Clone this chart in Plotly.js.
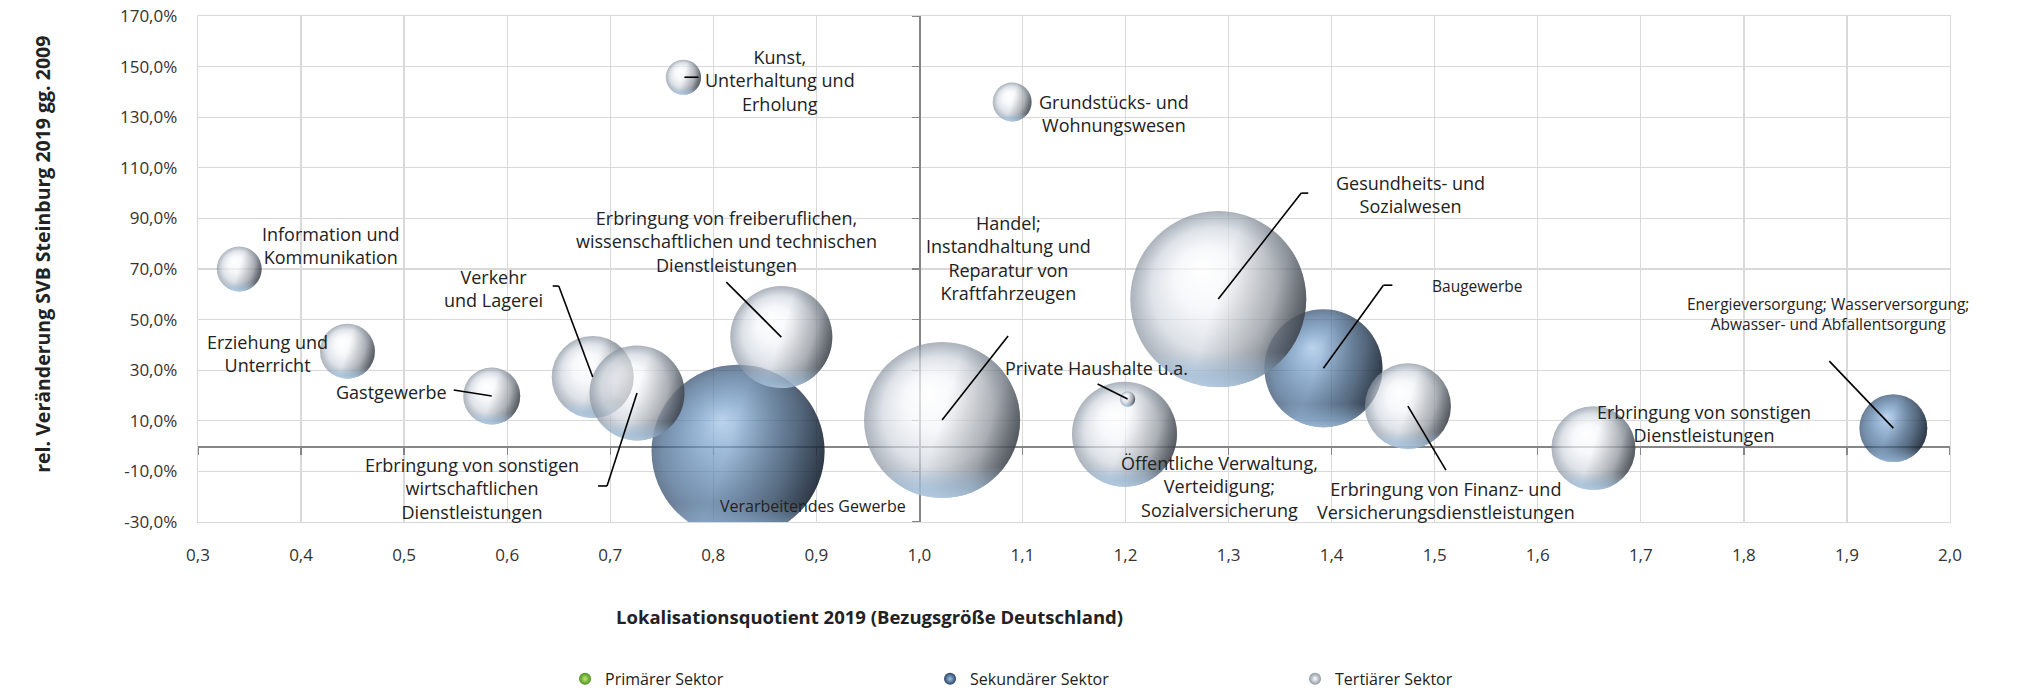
<!DOCTYPE html>
<html>
<head>
<meta charset="utf-8">
<script src="https://cdn.plot.ly/plotly-3.0.1.min.js"></script>
<style>
  html, body { margin: 0; padding: 0; background: #ffffff; }
  #chart { width: 2020px; height: 691px; }
</style>
</head>
<body>
<div id="chart"></div>
<script>
// Wirtschaftszweige im Kreis Steinburg: Lokalisationsquotient 2019 (x),
// relative Veränderung der SV-Beschäftigten 2019 gg. 2009 in % (y),
// Beschäftigte 2019 (Blasengröße), Sektor-Zuordnung.
const branchen = [
  'Verarbeitendes Gewerbe',
  'Baugewerbe',
  'Energieversorgung; Wasserversorgung;<br>Abwasser- und Abfallentsorgung',
  'Information und<br>Kommunikation',
  'Erziehung und<br>Unterricht',
  'Gastgewerbe',
  'Verkehr<br>und Lagerei',
  'Erbringung von sonstigen<br>wirtschaftlichen<br>Dienstleistungen',
  'Kunst,<br>Unterhaltung und<br>Erholung',
  'Grundstücks- und<br>Wohnungswesen',
  'Erbringung von freiberuflichen,<br>wissenschaftlichen und technischen<br>Dienstleistungen',
  'Handel;<br>Instandhaltung und<br>Reparatur von<br>Kraftfahrzeugen',
  'Öffentliche Verwaltung,<br>Verteidigung;<br>Sozialversicherung',
  'Private Haushalte u.a.',
  'Gesundheits- und<br>Sozialwesen',
  'Erbringung von Finanz- und<br>Versicherungsdienstleistungen',
  'Erbringung von sonstigen<br>Dienstleistungen'
];
const lq = [0.824, 1.392, 1.945, 0.340, 0.445, 0.585, 0.683, 0.726, 0.771, 1.090,
            0.866, 1.022, 1.199, 1.202, 1.290, 1.474, 1.654];
const veraenderung = [-2.0, 30.8, 7.1, 70.0, 37.5, 19.8, 27.3, 21.0, 145.8, 136.0,
                      43.1, 10.3, 4.7, 18.6, 58.1, 15.8, -0.8];
const beschaeftigte = [7730, 3600, 1190, 520, 780, 840, 1740, 2330, 320, 390,
                       2690, 6290, 2850, 60, 8000, 1910, 1820];
const sektor = ['sek', 'sek', 'sek', 'ter', 'ter', 'ter', 'ter', 'ter', 'ter', 'ter',
                'ter', 'ter', 'ter', 'ter', 'ter', 'ter', 'ter'];

const sektorNamen = { pri: 'Primärer Sektor', sek: 'Sekundärer Sektor', ter: 'Tertiärer Sektor' };

const xTickVals = [0.3, 0.4, 0.5, 0.6, 0.7, 0.8, 0.9, 1.0, 1.1, 1.2, 1.3, 1.4, 1.5, 1.6, 1.7, 1.8, 1.9, 2.0];
const xTickLabels = ['0,3', '0,4', '0,5', '0,6', '0,7', '0,8', '0,9', '1,0', '1,1', '1,2', '1,3', '1,4',
                     '1,5', '1,6', '1,7', '1,8', '1,9', '2,0'];
const yTickVals = [-30, -10, 10, 30, 50, 70, 90, 110, 130, 150, 170];
const yTickLabels = ['-30,0%', '-10,0%', '10,0%', '30,0%', '50,0%', '70,0%', '90,0%', '110,0%',
                     '130,0%', '150,0%', '170,0%'];

// ---- presentation ----------------------------------------------------------
const X_RANGE = [0.3, 2.0];
const Y_RANGE = [-30, 170];
const X_CROSS = 1.0;   // vertical axis crosses the x axis here
const Y_CROSS = 0;     // horizontal axis crosses the y axis here
const FONT = 'Open Sans, Noto Sans, sans-serif';
const TEXT = '#222222';
const SIZEREF = 2 * 8000 / (176 * 176);   // 8000 Beschäftigte -> 176 px bubble

// Label placement relative to each bubble centre in screen pixels
// (dx to the right, dy upwards) and leader segments [x0, y0, x1, y1] in the same frame.
const labelPlacement = [
  { dx: 75, dy: -55, size: 16 },
  { dx: 154, dy: 82, size: 15.5, lines: [[0, 0, 60, 83], [60, 83, 69, 83]] },
  { dx: -65, dy: 114.5, size: 15.5, lines: [[0, 0, -64, 67]] },
  { dx: 92, dy: 24 },
  { dx: -80, dy: -2 },
  { dx: -100, dy: 4, lines: [[0, 0, -38, 6]] },
  { dx: -99, dy: 89, lines: [[0, 0, -34, 91], [-34, 91, -40, 91]] },
  { dx: -165, dy: -95.6, lines: [[0, 0, -30, -93], [-30, -93, -39, -93]] },
  { dx: 97, dy: -3, lines: [[1, 0, 15, 0]] },
  { dx: 102, dy: -11 },
  { dx: -55, dy: 96, lines: [[0, 0, -55, 55]] },
  { dx: 66.5, dy: 162.5, lines: [[0, 0, 66, 84]] },
  { dx: 95, dy: -52 },
  { dx: -31, dy: 31, lines: [[0, 0, -30, 15]] },
  { dx: 192, dy: 104.5, lines: [[0, 0, 83, 106], [83, 106, 90, 106]] },
  { dx: 38, dy: -94, lines: [[0, 0, 38, -64]] },
  { dx: 111, dy: 25 }
];

// Shaded-sphere look: a radial base with an off-centre highlight, a darker band
// towards the right edge and a light rim along the bottom. Marker colours give the
// basic gradient; the stop lists refine the generated SVG gradients afterwards.
const sphere = {
  pri: { edge: '#4f8f1e', centre: '#b8ec74', shade: 'rgba(20,40,10,0.5)', rim: 'rgba(190,240,150,0.4)' },
  sek: { edge: '#2a4466', centre: '#9fc0e3', shade: 'rgba(12,20,32,0.5)', rim: 'rgba(150,200,245,0.4)' },
  ter: { edge: '#8c97a4', centre: '#ffffff', shade: 'rgba(28,32,40,0.45)', rim: 'rgba(170,210,245,0.4)' }
};
const sphereStops = {
  sek: {
    base: [[0, '#9fc0e3', 1], [0.25, '#77a0cc', 1], [0.6, '#4f78a3', 1], [0.85, '#3a5d84', 1], [1, '#2a4466', 1]],
    shade: [[0, '#0a1018', 0], [0.45, '#0a1018', 0], [0.78, '#0a1018', 0.45], [1, '#0a1018', 0.92]],
    rim: [[0, '#a6cff5', 0], [0.8, '#a6cff5', 0], [0.94, '#a6cff5', 0.7], [1, '#bfe0fb', 0.9]]
  },
  ter: {
    base: [[0, '#ffffff', 1], [0.35, '#f3f5f8', 1], [0.7, '#d0d6de', 1], [0.88, '#a2acb8', 1], [1, '#87919e', 1]],
    shade: [[0, '#1b1e23', 0], [0.5, '#1b1e23', 0], [0.8, '#1b1e23', 0.38], [1, '#1b1e23', 0.9]],
    rim: [[0, '#a9d1f5', 0], [0.8, '#a9d1f5', 0], [0.94, '#a9d1f5', 0.7], [1, '#bfe0fb', 0.9]]
  }
};
function clear(c) { return c.replace(/[\d.]+\)$/, '0)'); }

const traces = [];

// legend entries
['pri', 'sek', 'ter'].forEach(function (s, k) {
  traces.push({
    type: 'scatter', mode: 'markers', x: [null], y: [null],
    xaxis: k === 0 ? 'x2' : 'x', yaxis: k === 0 ? 'y2' : 'y',
    name: sektorNamen[s], showlegend: true, hoverinfo: 'skip',
    marker: { size: 11, color: sphere[s].edge, gradient: { type: 'radial', color: sphere[s].centre }, line: { width: 0 } }
  });
});

// bubbles, each one built from three stacked layers so overlaps stay in order
for (let i = 0; i < branchen.length; i++) {
  const st = sphere[sektor[i]];
  const layers = [
    { key: 'base', color: st.edge, gradient: { type: 'radial', color: st.centre } },
    { key: 'shade', color: clear(st.shade), gradient: { type: 'horizontal', color: st.shade } },
    { key: 'rim', color: clear(st.rim), gradient: { type: 'vertical', color: st.rim } }
  ];
  layers.forEach(function (l) {
    traces.push({
      type: 'scatter', mode: 'markers', uid: 'b' + i + l.key,
      x: [lq[i]], y: [veraenderung[i]],
      name: branchen[i], showlegend: false, hoverinfo: 'skip',
      marker: {
        size: [beschaeftigte[i]], sizemode: 'area', sizeref: SIZEREF,
        color: l.color, gradient: l.gradient, line: { width: 0 }
      }
    });
  });
}

const annotations = [];
const shapes = [];
for (let i = 0; i < branchen.length; i++) {
  const p = labelPlacement[i];
  annotations.push({
    xref: 'x', yref: 'y', x: lq[i], y: veraenderung[i],
    xshift: p.dx, yshift: p.dy, xanchor: 'center', yanchor: 'middle',
    text: branchen[i], showarrow: false, align: 'center',
    font: { family: FONT, size: p.size || 18, color: TEXT }
  });
  (p.lines || []).forEach(function (seg) {
    shapes.push({
      type: 'line', xref: 'x', yref: 'y', layer: 'above',
      xsizemode: 'pixel', ysizemode: 'pixel',
      xanchor: lq[i], yanchor: veraenderung[i],
      x0: seg[0], y0: seg[1], x1: seg[2], y1: seg[3],
      line: { color: '#000000', width: 1.6 }
    });
  });
}

// axis titles
annotations.push({
  xref: 'paper', yref: 'paper', x: -0.0885, y: 0.53, xanchor: 'center', yanchor: 'middle',
  text: 'rel. Veränderung SVB Steinburg 2019 gg. 2009', textangle: -90, showarrow: false,
  font: { family: FONT, size: 19.5, color: TEXT, weight: 'bold' }
});
annotations.push({
  xref: 'paper', yref: 'paper', x: 0.383, y: -0.186, xanchor: 'center', yanchor: 'middle',
  text: 'Lokalisationsquotient 2019 (Bezugsgröße Deutschland)', showarrow: false,
  font: { family: FONT, size: 18.5, color: TEXT, weight: 'bold' }
});

const grid = '#d9d9d9';
const axisGrey = '#868686';

const layout = {
  width: 2020, height: 691,
  margin: { l: 198, r: 70, t: 16, b: 169, pad: 0, autoexpand: false },
  paper_bgcolor: '#ffffff', plot_bgcolor: '#ffffff',
  font: { family: FONT, size: 17, color: TEXT },
  showlegend: true,
  legend: {
    orientation: 'h', x: 0.2095, xanchor: 'left', y: -0.31, yanchor: 'middle',
    font: { family: FONT, size: 16, color: TEXT },
    entrywidth: 320, entrywidthmode: 'pixels', itemsizing: 'constant', traceorder: 'normal'
  },
  xaxis: {
    range: X_RANGE, autorange: false, tickvals: xTickVals, ticktext: xTickLabels,
    showgrid: true, gridcolor: grid, gridwidth: 1.3, zeroline: false,
    showline: true, mirror: true, linecolor: grid, linewidth: 1.3,
    ticks: '', ticklabelstandoff: 17, tickfont: { family: FONT, size: 17, color: '#333333' }
  },
  yaxis: {
    range: Y_RANGE, autorange: false, tickvals: yTickVals, ticktext: yTickLabels,
    showgrid: true, gridcolor: grid, gridwidth: 1.3, zeroline: false,
    showline: true, mirror: true, linecolor: grid, linewidth: 1.3,
    ticks: '', ticklabelstandoff: 16, tickfont: { family: FONT, size: 17, color: '#333333' }
  },
  xaxis2: {
    overlaying: 'x', anchor: 'free',
    position: (Y_CROSS - Y_RANGE[0]) / (Y_RANGE[1] - Y_RANGE[0]),
    range: X_RANGE, autorange: false, tickvals: xTickVals,
    showticklabels: false, showgrid: false, zeroline: false,
    showline: true, linecolor: axisGrey, linewidth: 1.6,
    ticks: 'outside', ticklen: 7, tickwidth: 1.3, tickcolor: axisGrey, layer: 'below traces'
  },
  yaxis2: {
    overlaying: 'y', anchor: 'free',
    position: (X_CROSS - X_RANGE[0]) / (X_RANGE[1] - X_RANGE[0]),
    range: Y_RANGE, autorange: false, tickvals: yTickVals,
    showticklabels: false, showgrid: false, zeroline: false,
    showline: true, linecolor: axisGrey, linewidth: 1.6,
    ticks: 'outside', ticklen: 7, tickwidth: 1.3, tickcolor: axisGrey, layer: 'below traces'
  },
  annotations: annotations,
  shapes: shapes
};

// refine the SVG gradients Plotly generated for the bubble layers
function refineGradients(root) {
  const grads = root.querySelectorAll('linearGradient, radialGradient');
  grads.forEach(function (g) {
    const m = /b(\d+)(base|shade|rim)/.exec(g.id);
    if (!m) return;
    const i = +m[1], key = m[2];
    const stops = sphereStops[sektor[i]][key];
    if (key === 'base') {
      g.setAttribute('cx', '50%'); g.setAttribute('cy', '50%'); g.setAttribute('r', '50%');
      g.setAttribute('fx', '40%'); g.setAttribute('fy', '32%');
    } else if (key === 'shade') {
      g.setAttribute('x1', '0'); g.setAttribute('y1', '0.3');
      g.setAttribute('x2', '1'); g.setAttribute('y2', '0.62');
    } else {
      g.setAttribute('x1', '0'); g.setAttribute('y1', '0');
      g.setAttribute('x2', '0'); g.setAttribute('y2', '1');
    }
    while (g.firstChild) g.removeChild(g.firstChild);
    stops.forEach(function (s) {
      const el = document.createElementNS('http://www.w3.org/2000/svg', 'stop');
      el.setAttribute('offset', (s[0] * 100) + '%');
      el.setAttribute('stop-color', s[1]);
      el.setAttribute('stop-opacity', s[2]);
      g.appendChild(el);
    });
  });
}

Plotly.newPlot('chart', traces, layout, { staticPlot: true, displayModeBar: false })
  .then(function (gd) { refineGradients(gd); });
</script>
</body>
</html>
